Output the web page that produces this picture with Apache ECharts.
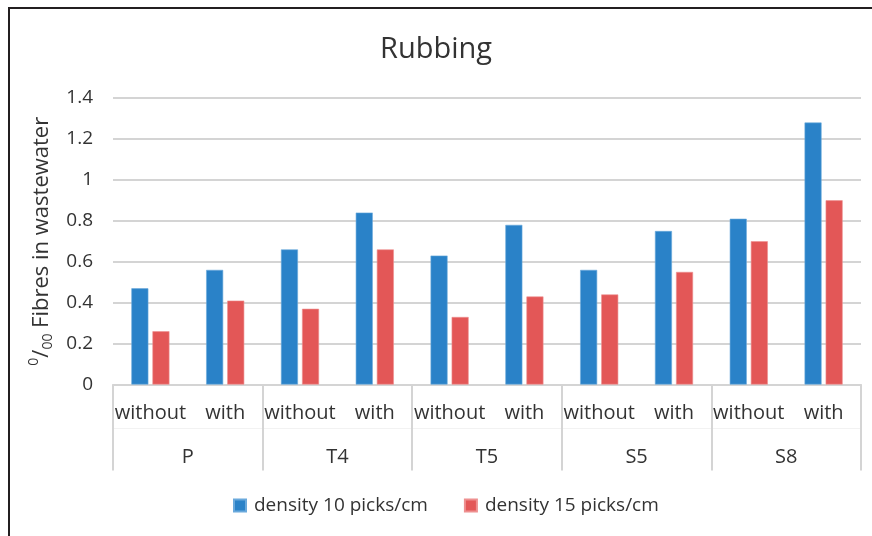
<!DOCTYPE html>
<html>
<head>
<meta charset="utf-8">
<script src="https://cdn.jsdelivr.net/npm/echarts@6/dist/echarts.min.js"></script>
<style>
  html, body { margin: 0; padding: 0; background: #fff; }
  #chart { width: 872px; height: 536px; }
</style>
</head>
<body>
<div id="chart"></div>
<script>
// treatment labels (inner row) and sample groups (outer row)
const treatments = ["without", "with", "without", "with", "without", "with", "without", "with", "without", "with"];
const groups = ["P", "T4", "T5", "S5", "S8"];

const density10 = [0.47, 0.56, 0.66, 0.84, 0.63, 0.78, 0.56, 0.75, 0.81, 1.28];
const density15 = [0.26, 0.41, 0.37, 0.66, 0.33, 0.43, 0.44, 0.55, 0.70, 0.90];

const seriesNames = ["density 10 picks/cm", "density 15 picks/cm"];
const yTicks = { min: 0, max: 1.4, interval: 0.2 };

const FONT = "Open Sans";
const TEXT = "#333333";

const chart = echarts.init(document.getElementById("chart"));

chart.setOption({
  backgroundColor: "#fff",
  animation: false,
  textStyle: { fontFamily: FONT },
  title: {
    text: "Rubbing",
    left: "center",
    top: 30,
    textStyle: { fontFamily: FONT, fontSize: 29, fontWeight: "normal", color: TEXT },
  },
  legend: {
    data: seriesNames,
    bottom: 16,
    left: 228,
    icon: "rect",
    itemWidth: 12,
    itemHeight: 12,
    itemGap: 36,
    textStyle: { fontFamily: FONT, fontSize: 19, color: TEXT, padding: [0, 0, 0, 3] },
  },
  grid: { left: 113, right: 11, top: 98, bottom: 151.5, containLabel: false },
  xAxis: [
    {
      type: "category",
      data: treatments,
      axisLine: { lineStyle: { color: "#d4d4d4", width: 2 } },
      axisTick: { show: false },
      axisLabel: { interval: 0, margin: 19, fontSize: 20, color: TEXT, fontFamily: FONT },
    },
    {
      type: "category",
      data: groups,
      position: "bottom",
      axisLine: { show: false },
      axisTick: { show: true, length: 86, lineStyle: { color: "#d4d4d4", width: 2 } },
      axisLabel: { interval: 0, margin: 63, fontSize: 20, color: TEXT, fontFamily: FONT },
    },
    {
      type: "category",
      data: groups,
      position: "bottom",
      offset: 44,
      axisLine: { show: true, lineStyle: { color: "#f2f2f2", width: 1 } },
      axisTick: { show: false },
      axisLabel: { show: false },
    },
  ],
  yAxis: {
    type: "value",
    min: yTicks.min,
    max: yTicks.max,
    interval: yTicks.interval,
    name: "{sup|0}/{sub|00} Fibres in wastewater",
    nameLocation: "middle",
    nameRotate: 90,
    nameGap: 57,
    nameTextStyle: {
      fontFamily: FONT,
      fontSize: 22,
      color: TEXT,
      rich: {
        sup: { fontFamily: FONT, fontSize: 14, color: TEXT, verticalAlign: "top", lineHeight: 28 },
        sub: { fontFamily: FONT, fontSize: 14, color: TEXT, verticalAlign: "bottom", lineHeight: 28 },
      },
    },
    axisLine: { show: false },
    axisTick: { show: false },
    axisLabel: { margin: 20, fontSize: 19, color: TEXT, fontFamily: FONT },
    splitLine: { lineStyle: { color: "#d4d4d4", width: 2 } },
  },
  series: [
    {
      name: seriesNames[0],
      type: "bar",
      data: density10,
      barWidth: 17,
      barGap: "24%",
      itemStyle: { color: "#2a82c8", borderColor: "#6aa9dc", borderWidth: 0.6 },
    },
    {
      name: seriesNames[1],
      type: "bar",
      data: density15,
      barWidth: 17,
      barGap: "24%",
      itemStyle: { color: "#e35757", borderColor: "#ee9090", borderWidth: 0.6 },
    },
  ],
  graphic: [
    { type: "line", shape: { x1: 9, y1: 8, x2: 872, y2: 8 }, style: { stroke: "#231f20", lineWidth: 2 } },
    { type: "line", shape: { x1: 9, y1: 7, x2: 9, y2: 536 }, style: { stroke: "#231f20", lineWidth: 2 } },
  ],
});
</script>
</body>
</html>
